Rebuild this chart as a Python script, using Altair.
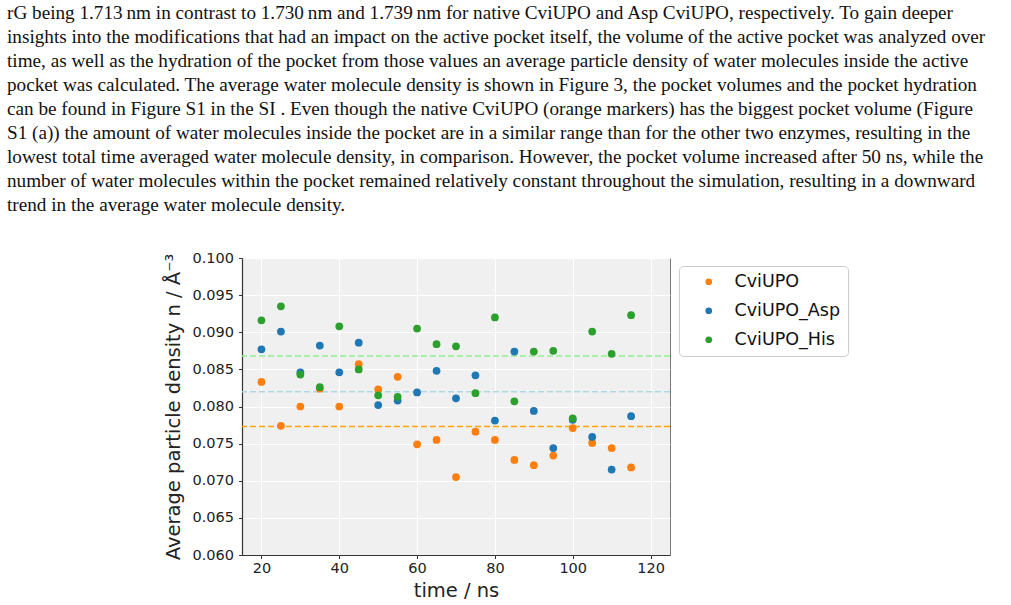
import altair as alt
import pandas as pd

# ---------------- data ----------------
times = [20, 25, 30, 35, 40, 45, 50, 55, 60, 65, 70, 75, 80, 85, 90, 95, 100, 105, 110, 115]
cviupo = [0.0833, 0.0774, 0.0800, 0.0824, 0.0800, 0.0857, 0.0823, 0.0840, 0.0749, 0.0755,
          0.0705, 0.0766, 0.0755, 0.0728, 0.0721, 0.0734, 0.0771, 0.0751, 0.0744, 0.0718]
cviupo_asp = [0.0877, 0.0901, 0.0846, 0.0882, 0.0846, 0.0886, 0.0802, 0.0808, 0.0819, 0.0848,
              0.0811, 0.0842, 0.0781, 0.0874, 0.0794, 0.0744, 0.0782, 0.0759, 0.0715, 0.0787]
cviupo_his = [0.0916, 0.0935, 0.0843, 0.0826, 0.0908, 0.0850, 0.0815, 0.0813, 0.0905, 0.0884,
              0.0881, 0.0818, 0.0920, 0.0807, 0.0874, 0.0875, 0.0784, 0.0901, 0.0871, 0.0923]

series_names = ["CviUPO", "CviUPO_Asp", "CviUPO_His"]
series_colors = ["#ff7f0e", "#1f77b4", "#2ca02c"]
mean_values = [0.0773, 0.0820, 0.0868]
mean_colors = ["#ffa500", "#add8e6", "#90ee90"]

x_ticks = [20, 40, 60, 80, 100, 120]
y_ticks = [0.060, 0.065, 0.070, 0.075, 0.080, 0.085, 0.090, 0.095, 0.100]

paragraph_lines = [
    "rG being 1.713\u2009nm in contrast to 1.730\u2009nm and 1.739\u2009nm for native CviUPO and Asp CviUPO, respectively. To gain deeper",
    "insights into the modifications that had an impact on the active pocket itself, the volume of the active pocket was analyzed over",
    "time, as well as the hydration of the pocket from those values an average particle density of water molecules inside the active",
    "pocket was calculated. The average water molecule density is shown in Figure 3, the pocket volumes and the pocket hydration",
    "can be found in Figure S1 in the SI . Even though the native CviUPO (orange markers) has the biggest pocket volume (Figure",
    "S1 (a)) the amount of water molecules inside the pocket are in a similar range than for the other two enzymes, resulting in the",
    "lowest total time averaged water molecule density, in comparison. However, the pocket volume increased after 50 ns, while the",
    "number of water molecules within the pocket remained relatively constant throughout the simulation, resulting in a downward",
    "trend in the average water molecule density.",
]

# ---------------- tables ----------------
rows = []
for name, vals in zip(series_names, [cviupo, cviupo_asp, cviupo_his]):
    for t, v in zip(times, vals):
        rows.append({"time": t, "density": v, "series": name})
points_df = pd.DataFrame(rows)

x_scale = alt.Scale(domain=[15, 125], nice=False, zero=False)
y_scale = alt.Scale(domain=[0.060, 0.100], nice=False, zero=False)

x_axis = alt.Axis(values=x_ticks, title="time / ns", labelFontSize=14.5, titleFontSize=19.5,
                  titleFontWeight="normal", labelPadding=3, titlePadding=6, tickSize=3.5,
                  labelFlush=False)
y_axis = alt.Axis(values=y_ticks, format=".3f", title="Average particle density n / Å⁻³",
                  labelFontSize=14.5, titleFontSize=19.5, titleFontWeight="normal",
                  labelPadding=5, titlePadding=8, tickSize=3.5, labelFlush=False)

mean_layers = []
for v, c in zip(mean_values, mean_colors):
    mean_layers.append(
        alt.Chart(pd.DataFrame({"mean": [v]}))
        .mark_rule(color=c, strokeDash=[6, 3], strokeWidth=1.5)
        .encode(y=alt.Y("mean:Q", scale=y_scale, axis=y_axis))
    )

points = (
    alt.Chart(points_df)
    .mark_circle(size=60, opacity=1)
    .encode(
        x=alt.X("time:Q", scale=x_scale, axis=x_axis),
        y=alt.Y("density:Q", scale=y_scale, axis=y_axis),
        color=alt.Color(
            "series:N",
            scale=alt.Scale(domain=series_names, range=series_colors),
            sort=series_names,
            legend=alt.Legend(
                title=None, orient="none", legendX=437, legendY=8,
                fillColor="white", strokeColor="#cccccc", cornerRadius=4, padding=7,
                symbolType="circle", symbolSize=45, symbolOffset=14, symbolStrokeWidth=0,
                labelFont="DejaVu Sans", labelFontSize=17.5, labelColor="#111111",
                labelOffset=17, rowPadding=10, labelLimit=300,
            ),
        ),
    )
)

paragraph = (
    alt.Chart(pd.DataFrame({"txt": ["\n".join(paragraph_lines)]}))
    .mark_text(align="left", baseline="alphabetic", font="Liberation Serif", fontSize=19.2,
               lineBreak="\n", lineHeight=24, color="#111111")
    .encode(x=alt.value(-235), y=alt.value(-239), text="txt:N")
)

chart = (
    alt.layer(*mean_layers, points, paragraph)
    .properties(
        width=428, height=297,
        autosize=alt.AutoSizeParams(type="none"),
        padding={"left": 242, "top": 258, "right": 341, "bottom": 50},
        background="white",
    )
    .configure_view(fill="#f0f0f0", stroke="#777777", strokeWidth=1)
    .configure_axis(
        labelFont="DejaVu Sans", titleFont="DejaVu Sans", labelColor="#222222",
        titleColor="#222222", gridColor="white", gridWidth=1, domainColor="#333333",
        domainWidth=1.2, tickColor="#333333", tickWidth=1,
    )
)

chart.save("out.html", embed_options={"renderer": "svg", "actions": False})
